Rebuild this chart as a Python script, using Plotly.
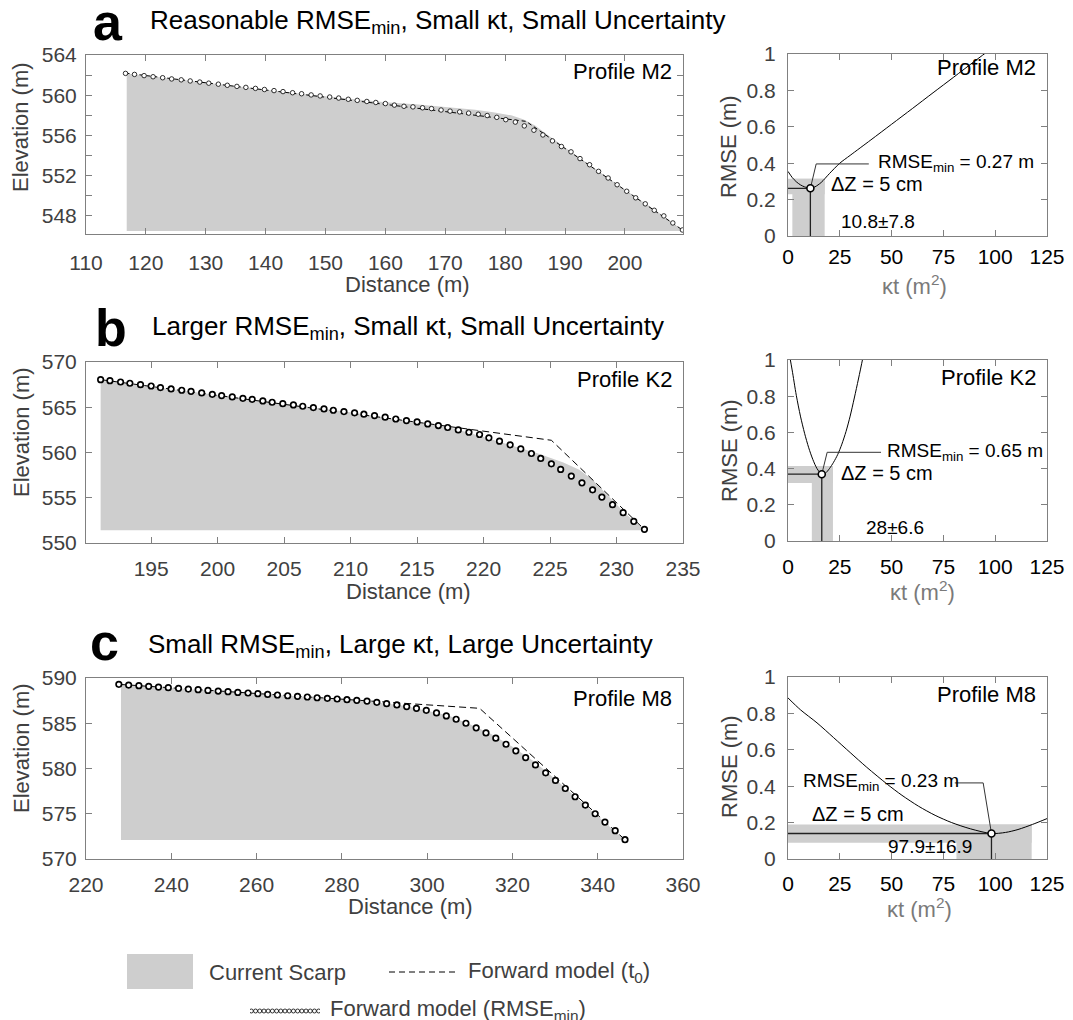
import plotly.graph_objects as go

# The page body has an 8 px default margin, so the figure is drawn 8 px in from the
# top-left corner of the 1073x1020 window.
OFF = 8
W, H = 1073 - OFF, 1020 - OFF
FONT = "Liberation Sans, Arial, Helvetica, sans-serif"
FILL = "rgb(206,206,206)"
AX = "#808080"
TG = "#404040"

# ======================= DATA =======================
# ---- Panel a : Profile M2 ----
a_dist = [116.6, 118.1, 119.7, 121.2, 122.8, 124.3, 125.9, 127.4, 129.0, 130.5,
          132.1, 133.6, 135.2, 136.7, 138.3, 139.8, 141.4, 142.9, 144.5, 146.0,
          147.6, 149.1, 150.7, 152.2, 153.8, 155.3, 156.9, 158.4, 160.0, 161.5,
          163.1, 164.6, 166.2, 167.7, 169.3, 170.8, 172.4, 173.9, 175.5, 177.0,
          178.6, 180.1, 181.7, 183.2, 184.8, 186.3, 187.9, 189.4, 191.0, 192.5,
          194.1, 195.6, 197.2, 198.7, 200.3, 201.8, 203.4, 204.9, 206.5, 208.0,
          209.6]
a_fm_elev = [562.17, 562.07, 561.95, 561.84, 561.74, 561.62, 561.53, 561.42, 561.31, 561.20,
             561.10, 560.99, 560.88, 560.78, 560.68, 560.57, 560.46, 560.36, 560.25, 560.15,
             560.03, 559.93, 559.82, 559.72, 559.60, 559.49, 559.38, 559.28, 559.17, 559.02,
             558.90, 558.84, 558.75, 558.67, 558.53, 558.42, 558.34, 558.22, 558.11, 557.98,
             557.80, 557.57, 557.33, 556.95, 556.52, 556.05, 555.46, 554.90, 554.37, 553.70,
             553.09, 552.43, 551.77, 551.10, 550.45, 549.80, 549.20, 548.56, 548.00, 547.30,
             546.60]
a_t0_dist = [116.6, 183.5, 209.6]
a_t0_elev = [562.2, 557.4, 546.6]
a_scarp_dist = [116.8, 130.0, 140.0, 150.0, 155.0, 160.0, 165.0, 170.0, 175.0, 178.0,
                181.0, 183.0, 185.0, 187.0, 190.0, 200.0, 205.0, 209.6]
a_scarp_elev = [562.15, 561.2, 560.55, 559.9, 559.6, 559.3, 559.1, 558.85, 558.55, 558.3,
                558.0, 557.6, 557.0, 556.1, 554.8, 550.6, 548.6, 546.6]
a_scarp_base = 546.5
a_kt = [0, 2, 4, 6, 8, 10.8, 13, 16, 20, 25, 30, 40, 50, 60, 70, 80, 90, 100]
a_rmse = [0.355, 0.322, 0.298, 0.281, 0.270, 0.263, 0.270, 0.294, 0.343, 0.400,
          0.443, 0.528, 0.614, 0.700, 0.787, 0.873, 0.960, 1.045]
a_best_kt, a_best_rmse = 10.8, 0.262
a_kt_band = [2.1, 17.7]
a_rmse_band = [0.229, 0.314]

# ---- Panel b : Profile K2 ----
b_dist = [191.2, 191.9, 192.7, 193.4, 194.2, 195.0, 195.7, 196.5, 197.3, 198.0,
          198.8, 199.6, 200.3, 201.1, 201.9, 202.6, 203.4, 204.1, 204.9, 205.7,
          206.4, 207.2, 208.0, 208.7, 209.5, 210.3, 211.0, 211.8,
          212.6, 213.4, 214.2, 215.0, 215.8, 216.6, 217.3, 218.1, 218.9, 219.7,
          220.4, 221.2, 222.0, 222.8, 223.6, 224.3, 225.1, 225.8, 226.6, 227.4,
          228.2, 228.9, 229.7, 230.5, 231.3, 232.1]
b_fm_elev = [568.05, 567.94, 567.79, 567.65, 567.50, 567.35, 567.17, 567.02, 566.88, 566.76,
             566.58, 566.43, 566.29, 566.14, 565.99, 565.88, 565.70, 565.55, 565.40, 565.26,
             565.11, 564.96, 564.82, 564.67, 564.52, 564.38, 564.23, 564.08,
             563.90, 563.70, 563.53, 563.38, 563.16, 562.98, 562.76, 562.50, 562.24, 561.99,
             561.62, 561.25, 560.85, 560.40, 559.89, 559.34, 558.75, 558.13, 557.39, 556.65,
             555.88, 555.07, 554.23, 553.35, 552.39, 551.51]
b_t0_dist = [191.2, 225.1, 232.1]
b_t0_elev = [568.05, 561.35, 551.5]
b_scarp_dist = [191.2, 200.0, 205.0, 210.0, 215.0, 217.5, 220.0, 222.0, 224.0, 226.0,
                227.2, 228.2, 229.7, 230.7, 232.1]
b_scarp_elev = [568.0, 566.3, 565.35, 564.45, 563.35, 562.75, 561.7, 560.8, 559.95, 558.9,
                558.1, 557.0, 554.7, 553.2, 551.5]
b_scarp_base = 551.4
b_kt = [0, 1.15, 2, 4, 6, 8, 10, 12, 14, 16.3, 18, 20, 22, 24, 26, 28, 30, 32, 34, 36, 38]
b_rmse = [1.08, 1.0, 0.945, 0.805, 0.69, 0.595, 0.515, 0.45, 0.40, 0.369, 0.374, 0.40,
          0.435, 0.478, 0.535, 0.605, 0.69, 0.79, 0.895, 1.005, 1.12]
b_best_kt, b_best_rmse = 16.3, 0.369
b_kt_band = [11.5, 21.7]
b_rmse_band = [0.321, 0.415]

# ---- Panel c : Profile M8 ----
c_dist = [227.7, 230.0, 232.4, 234.7, 237.0, 239.3, 241.7, 244.0, 246.3, 248.6,
          251.0, 253.3, 255.6, 258.0, 260.3, 262.6, 264.9, 267.3, 269.6, 271.9,
          274.2, 276.6, 278.9, 281.2, 283.5, 285.9, 288.2, 290.5, 292.9, 295.2,
          297.5, 299.8, 302.2, 304.5, 306.8, 309.1, 311.5, 313.8, 316.1, 318.5,
          320.8, 323.1, 325.4, 327.8, 330.1, 332.4, 334.7, 337.1, 339.4, 341.7,
          344.1, 346.4]
c_fm_elev = [589.30, 589.22, 589.15, 589.08, 589.00, 588.93, 588.86, 588.78, 588.71, 588.63,
             588.56, 588.49, 588.41, 588.34, 588.27, 588.19, 588.12, 588.04, 587.97, 587.90,
             587.82, 587.75, 587.68, 587.60, 587.53, 587.45, 587.31, 587.16, 587.02, 586.84,
             586.65, 586.43, 586.14, 585.81, 585.44, 585.00, 584.49, 583.93, 583.35, 582.68,
             581.95, 581.21, 580.40, 579.52, 578.68, 577.79, 576.88, 575.96, 575.00, 574.08,
             573.13, 572.13]
c_t0_dist = [227.7, 312.3, 346.4]
c_t0_elev = [589.3, 586.65, 572.13]
c_scarp_dist = [228.2, 260.0, 285.0, 295.0, 300.0, 305.0, 310.0, 315.0, 320.0, 325.0, 330.0, 346.4]
c_scarp_elev = [589.25, 588.3, 587.5, 586.9, 586.35, 585.85, 584.9, 583.8, 582.4, 580.8, 578.85, 572.1]
c_scarp_base = 572.1
c_kt = [0, 6, 14, 22, 30, 38, 48, 55, 63, 71, 79, 88, 98.2, 105, 111, 118, 125]
c_rmse = [0.885, 0.82, 0.748, 0.667, 0.585, 0.504, 0.41, 0.35, 0.29, 0.24, 0.20, 0.166,
          0.140, 0.146, 0.162, 0.19, 0.222]
c_best_kt, c_best_rmse = 98.2, 0.140
c_kt_band = [81.3, 117.6]
c_rmse_band = [0.089, 0.189]

# tick labels
a_xticks = [110, 120, 130, 140, 150, 160, 170, 180, 190, 200]
a_yticks = [548, 552, 556, 560, 564]
b_xticks = [195, 200, 205, 210, 215, 220, 225, 230, 235]
b_yticks = [550, 555, 560, 565, 570]
c_xticks = [220, 240, 260, 280, 300, 320, 340, 360]
c_yticks = [570, 575, 580, 585, 590]
kt_ticks = [0, 25, 50, 75, 100, 125]
rmse_ticks = [0, 0.2, 0.4, 0.6, 0.8, 1.0]
rmse_ticktext = ["0", "0.2", "0.4", "0.6", "0.8", "1"]

# ======================= FIGURE =======================
fig = go.Figure()
annotations = []
shapes = []


def px(x):
    return (x - OFF) / W


def py(y):
    return 1 - (y - OFF) / H


def ax_names(n):
    return ("x" if n == 1 else f"x{n}"), ("y" if n == 1 else f"y{n}")


def add_profile(n, dist, fm, t0d, t0e, sd, se, base, msize, mlw, dash):
    xa, ya = ax_names(n)
    fig.add_trace(go.Scatter(x=list(sd) + [sd[-1], sd[0]], y=list(se) + [base, base],
                             mode="lines", fill="toself", fillcolor=FILL,
                             line=dict(width=0), xaxis=xa, yaxis=ya, hoverinfo="skip"))
    fig.add_trace(go.Scatter(x=t0d, y=t0e, mode="lines",
                             line=dict(color="black", width=1, dash=dash),
                             xaxis=xa, yaxis=ya))
    fig.add_trace(go.Scatter(x=dist, y=fm, mode="markers",
                             marker=dict(symbol="circle", size=msize, color="white",
                                         line=dict(color="black", width=mlw)),
                             xaxis=xa, yaxis=ya))


def add_rmse(n, kt, rmse, bkt, brm, ktband, rmband, leader, texts):
    xa, ya = ax_names(n)
    shapes.append(dict(type="rect", xref=xa, yref=ya, x0=0, x1=ktband[1],
                       y0=rmband[0], y1=rmband[1], fillcolor=FILL, line=dict(width=0),
                       layer="below"))
    shapes.append(dict(type="rect", xref=xa, yref=ya, x0=ktband[0], x1=ktband[1],
                       y0=0, y1=rmband[1], fillcolor=FILL, line=dict(width=0),
                       layer="below"))
    fig.add_trace(go.Scatter(x=kt, y=rmse, mode="lines",
                             line=dict(color="black", width=1, shape="spline", smoothing=0.8),
                             xaxis=xa, yaxis=ya))
    fig.add_trace(go.Scatter(x=[0, bkt, bkt], y=[brm, brm, 0], mode="lines",
                             line=dict(color="#222222", width=1.3), xaxis=xa, yaxis=ya))
    lx0, lx1, ly = leader
    fig.add_trace(go.Scatter(x=[lx0, lx1, bkt], y=[ly, ly, brm], mode="lines",
                             line=dict(color="#333333", width=1), xaxis=xa, yaxis=ya))
    fig.add_trace(go.Scatter(x=[bkt], y=[brm], mode="markers",
                             marker=dict(symbol="circle", size=7, color="white",
                                         line=dict(color="black", width=1.6)),
                             xaxis=xa, yaxis=ya))
    for (tx, ty, t, fs) in texts:
        annotations.append(dict(xref=xa, yref=ya, x=tx, y=ty, text=t, showarrow=False,
                                xanchor="left", yanchor="middle",
                                font=dict(size=fs, color="black", family=FONT)))


def base_axis(**kw):
    d = dict(showline=True, linecolor=AX, linewidth=1, mirror="ticks", ticks="inside",
             ticklen=6, tickcolor=AX, tickwidth=1, showgrid=False, zeroline=False,
             automargin=False)
    d.update(kw)
    return d


layout_axes = {}

LX0, LX1 = 86, 683
RX0, RX1 = 788, 1047
rows_left = [(55, 234), (362, 543), (678, 859)]
rows_right = [(54, 236), (360, 541), (677, 859)]

left_cfg = [
    dict(n=1, xr=[110, 209.7], xt=a_xticks, yr=[546.2, 564], yt=a_yticks, xs=10,
         minor=dict(tickvals=[550, 554, 558, 562], ticks="inside", ticklen=6, tickcolor=AX)),
    dict(n=3, xr=[190.1, 235], xt=b_xticks, yr=[550, 570], yt=b_yticks, xs=7, minor=None),
    dict(n=5, xr=[220, 360], xt=c_xticks, yr=[570, 590], yt=c_yticks, xs=7, minor=None),
]
for cfg, (t, b) in zip(left_cfg, rows_left):
    n = cfg["n"]
    xk = "xaxis" if n == 1 else f"xaxis{n}"
    yk = "yaxis" if n == 1 else f"yaxis{n}"
    xa, ya = ax_names(n)
    layout_axes[xk] = base_axis(domain=[px(LX0), px(LX1)], range=cfg["xr"], tickvals=cfg["xt"],
                                anchor=ya, tickfont=dict(size=21, color=TG, family=FONT),
                                ticklabelstandoff=cfg["xs"])
    yax = base_axis(domain=[py(b), py(t)], range=cfg["yr"], tickvals=cfg["yt"],
                    anchor=xa, tickfont=dict(size=21, color=TG, family=FONT),
                    ticklabelstandoff=4)
    if cfg["minor"]:
        yax["minor"] = cfg["minor"]
    layout_axes[yk] = yax

for n, (t, b), xs in zip([2, 4, 6], rows_right, [2, 7, 6]):
    xk, yk = f"xaxis{n}", f"yaxis{n}"
    xa, ya = ax_names(n)
    layout_axes[xk] = base_axis(domain=[px(RX0), px(RX1)], range=[0, 125], tickvals=kt_ticks,
                                anchor=ya, tickfont=dict(size=21, color="black", family=FONT),
                                ticklabelstandoff=xs)
    layout_axes[yk] = base_axis(domain=[py(b), py(t)], range=[0, 1], tickvals=rmse_ticks,
                                ticktext=rmse_ticktext, anchor=xa,
                                tickfont=dict(size=21, color=TG, family=FONT),
                                ticklabelstandoff=7)

# ---- profiles ----
add_profile(1, a_dist, a_fm_elev, a_t0_dist, a_t0_elev, a_scarp_dist, a_scarp_elev,
            a_scarp_base, 4.5, 0.8, "4px,3px")
add_profile(3, b_dist, b_fm_elev, b_t0_dist, b_t0_elev, b_scarp_dist, b_scarp_elev,
            b_scarp_base, 5.5, 1.7, "7px,4px")
add_profile(5, c_dist, c_fm_elev, c_t0_dist, c_t0_elev, c_scarp_dist, c_scarp_elev,
            c_scarp_base, 5.5, 1.7, "7px,4px")

# ---- RMSE curves ----
add_rmse(2, a_kt, a_rmse, a_best_kt, a_best_rmse, a_kt_band, a_rmse_band,
         (39.0, 13.6, 0.396),
         [(42.3, 0.40, "RMSE<sub>min</sub> = 0.27 m", 19), (19.8, 0.286, "ΔZ = 5 cm", 20),
          (24.8, 0.079, "10.8±7.8", 19)])
add_rmse(4, b_kt, b_rmse, b_best_kt, b_best_rmse, b_kt_band, b_rmse_band,
         (44.9, 18.9, 0.49),
         [(46.9, 0.493, "RMSE<sub>min</sub> = 0.65 m", 19), (24.7, 0.376, "ΔZ = 5 cm", 20),
          (36.7, 0.077, "28±6.6", 19)])
add_rmse(6, c_kt, c_rmse, c_best_kt, c_best_rmse, c_kt_band, c_rmse_band,
         (80.5, 94.2, 0.418),
         [(6.5, 0.425, "RMSE<sub>min</sub> = 0.23 m", 19), (10.7, 0.249, "ΔZ = 5 cm", 20),
          (47.5, 0.067, "97.9±16.9", 19)])

# ---- profile labels ----
for n, name, dy in [(1, "Profile M2", -17), (3, "Profile K2", -17), (5, "Profile M8", -20),
                    (2, "Profile M2", -14), (4, "Profile K2", -17), (6, "Profile M8", -17)]:
    xa, ya = ax_names(n)
    annotations.append(dict(xref=xa + " domain", yref=ya + " domain", x=1, y=1, text=name,
                            showarrow=False, xanchor="right", yanchor="middle",
                            xshift=-9, yshift=dy,
                            font=dict(size=22, color="black", family=FONT)))


def ann_px(x, y, text, size, color, xanchor="left", yanchor="middle", angle=0, bold=False):
    annotations.append(dict(xref="paper", yref="paper", x=px(x), y=py(y), text=text,
                            showarrow=False, xanchor=xanchor, yanchor=yanchor,
                            textangle=angle,
                            font=dict(size=size, color=color, family=FONT,
                                      weight="bold" if bold else "normal")))


# ---- panel titles ----
titles = [("a", 91, 22, 148, 21, "Reasonable RMSE<sub>min</sub>, Small κt, Small Uncertainty"),
          ("b", 93, 328, 150, 327, "Larger RMSE<sub>min</sub>, Small κt, Small Uncertainty"),
          ("c", 88, 642, 146, 645, "Small RMSE<sub>min</sub>, Large κt, Large Uncertainty")]
for letter, lx, ly, tx, ty, txt in titles:
    ann_px(lx, ly, letter, 52, "black", bold=True)
    ann_px(tx, ty, txt, 26, "black")

# ---- axis titles ----
for yc in [127, 432, 748]:
    ann_px(21, yc, "Elevation (m)", 22, TG, xanchor="center", angle=-90)
for yc in [147, 451, 767]:
    ann_px(729, yc, "RMSE (m)", 22, TG, xanchor="center", angle=-90)
for xc, yc in [(407, 284), (408, 591), (410, 906)]:
    ann_px(xc, yc, "Distance (m)", 22, TG, xanchor="center")
for xc, yc in [(914, 285), (922, 591), (919, 908)]:
    ann_px(xc, yc, "κt (m<sup>2</sup>)", 22, "#7a7a7a", xanchor="center")

# ---- legend ----
shapes.append(dict(type="rect", xref="paper", yref="paper", x0=px(127), x1=px(193),
                   y0=py(989), y1=py(954), fillcolor=FILL, line=dict(width=0)))
shapes.append(dict(type="line", xref="paper", yref="paper", x0=px(389), x1=px(456),
                   y0=py(972), y1=py(972), line=dict(color="black", width=1, dash="6px,4px")))
ann_px(207, 972, "Current Scarp", 22, TG)
ann_px(466, 972, "Forward model (t<sub>0</sub>)", 22, TG)
ann_px(328, 1010, "Forward model (RMSE<sub>min</sub>)", 22, TG)

legend_glyph_x = [i / 16 for i in range(17)]
legend_glyph_y = [0.5] * 17
fig.add_trace(go.Scatter(x=legend_glyph_x, y=legend_glyph_y, mode="markers",
                         marker=dict(symbol="circle", size=4, color="white",
                                     line=dict(color="black", width=0.8)),
                         xaxis="x7", yaxis="y7"))
layout_axes["xaxis7"] = dict(domain=[px(250), px(320)], range=[-0.02, 1.02], visible=False,
                             anchor="y7", fixedrange=True, automargin=False)
layout_axes["yaxis7"] = dict(domain=[py(1018), py(1004)], range=[0, 1], visible=False,
                             anchor="x7", fixedrange=True, automargin=False)

fig.update_layout(
    template="none",
    width=W, height=H, autosize=False,
    margin=dict(l=0, r=0, t=0, b=0, pad=0),
    paper_bgcolor="white", plot_bgcolor="rgba(0,0,0,0)",
    showlegend=False,
    font=dict(family=FONT, color=TG),
    annotations=annotations,
    shapes=shapes,
    **layout_axes,
)

fig.write_html("out.html")
